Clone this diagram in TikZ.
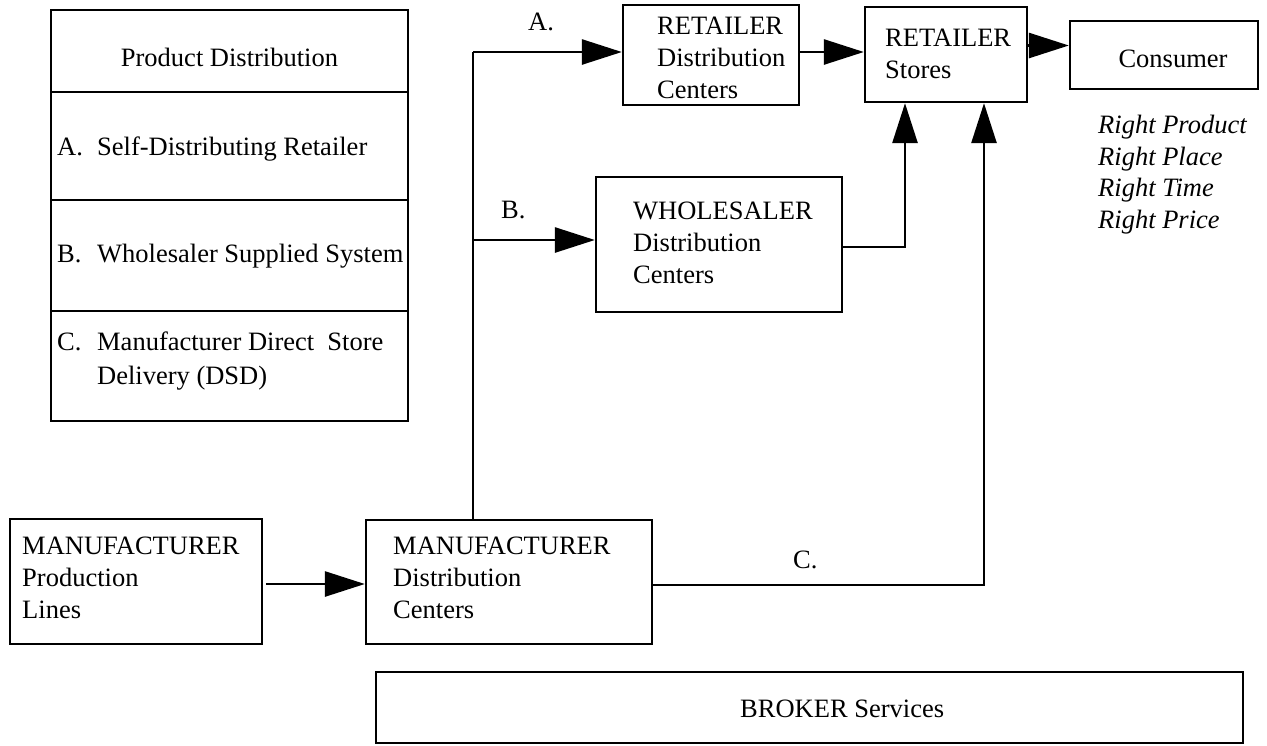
\documentclass[tikz,border=0pt]{standalone}
\usepackage{fontspec}
\setmainfont{Liberation Serif}
\usetikzlibrary{arrows.meta}
\begin{document}
\begin{tikzpicture}[x=1pt,y=-1pt,
  box/.style={draw, line width=2.3pt, inner sep=0pt},
  conn/.style={line width=2.7pt},
  arr/.style={conn, -{Triangle[length=40pt,width=25pt]}},
  txt/.style={inner sep=0pt, font=\fontsize{26.5}{32}\selectfont, align=left},
]
\useasboundingbox (0,0) rectangle (1267,745);

% legend table
\node[box, minimum width=357pt, minimum height=82pt]  (t0) at (229.5,51) {};
\node[box, minimum width=357pt, minimum height=108pt] (t1) at (229.5,146) {};
\node[box, minimum width=357pt, minimum height=111pt] (t2) at (229.5,255.5) {};
\node[box, minimum width=357pt, minimum height=110pt] (t3) at (229.5,366) {};
\node[txt, anchor=base] (t0t) at (229.5,66) {Product Distribution};
\node[txt, anchor=base west] (t1t) at (57,155) {\makebox[40pt][l]{A.}Self-Distributing Retailer};
\node[txt, anchor=base west] (t2t) at (57,262) {\makebox[40pt][l]{B.}Wholesaler Supplied System};
\node[txt, anchor=north west] (t3t) at (57,332) {\makebox[40pt][l]{C.}Manufacturer Direct\ \ Store\\[2pt]\hspace*{40pt}Delivery (DSD)};

% boxes
\node[box, minimum width=252pt, minimum height=125pt] (mpl) at (136,581.5) {};
\node[box, minimum width=286pt, minimum height=124pt] (mdc) at (509,582) {};
\node[box, minimum width=176pt, minimum height=100pt] (rdc) at (711,55) {};
\node[box, minimum width=246pt, minimum height=135pt] (wdc) at (719,244.5) {};
\node[box, minimum width=162pt, minimum height=95pt]  (rst) at (946,54.5) {};
\node[box, minimum width=188pt, minimum height=68pt]  (con) at (1164,55) {};
\node[box, minimum width=867pt, minimum height=71pt]  (brk) at (809.5,707.5) {};

\node[txt, anchor=north west] (mplt) at (22,537) {MANUFACTURER\\Production\\Lines};
\node[txt, anchor=north west] (mdct) at (393,537) {MANUFACTURER\\Distribution\\Centers};
\node[txt, anchor=north west] (rdct) at (657,17) {RETAILER\\Distribution\\Centers};
\node[txt, anchor=north west] (wdct) at (633,202) {WHOLESALER\\Distribution\\Centers};
\node[txt, anchor=north west] (rstt) at (885,29) {RETAILER\\Stores};
\node[txt, anchor=base] (cont) at (1173,67) {Consumer};
\node[txt, anchor=base west] (brkt) at (740,717) {BROKER Services};
\node[txt, anchor=north west, font=\fontsize{26.5}{31.7}\selectfont\itshape] (right) at (1098,115)
  {Right Product\\Right Place\\Right Time\\Right Price};

% labels
\node[txt, anchor=base west] (la) at (528,30) {A.};
\node[txt, anchor=base west] (lb) at (501,218) {B.};
\node[txt, anchor=base west] (lc) at (793,568) {C.};

% connectors
\coordinate (tA) at (473,52);
\coordinate (tB) at (473,240);
\coordinate (cy) at (0,45.5);
\coordinate (wj) at (905,247);
\coordinate (cj) at (984,585);

\draw[arr, shorten <=3pt] (mpl.east |- 0,584) -- (mdc.west |- 0,584);
\draw[conn] (mdc.north -| tA) -- (tA);
\draw[arr] (tA) -- (tA -| rdc.west);
\draw[arr] (tB) -- (tB -| wdc.west);
\draw[arr] (rdc.east |- tA) -- (rst.west |- tA);
\draw[arr] (rst.east |- cy) -- (con.west |- cy);
\draw[arr] (wdc.east |- wj) -| (rst.south -| wj);
\draw[arr] (mdc.east |- cj) -| (rst.south -| cj);
\end{tikzpicture}
\end{document}
